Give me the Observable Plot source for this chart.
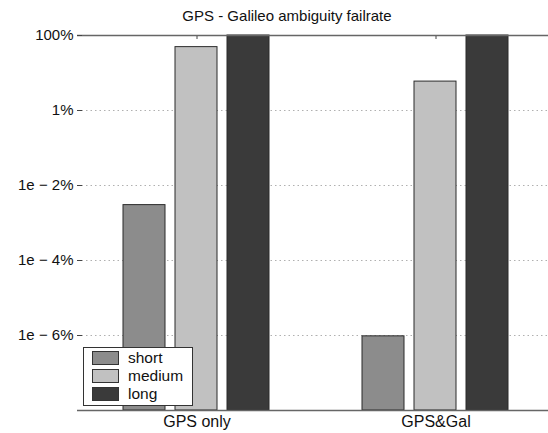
<!DOCTYPE html>
<html><head><meta charset="utf-8">
<script src="https://cdn.jsdelivr.net/npm/d3@7"></script>
<script src="https://cdn.jsdelivr.net/npm/@observablehq/plot@0.6"></script>
<style>
html,body{margin:0;padding:0;background:#fff;overflow:hidden;}
#wrap{position:relative;width:548px;height:433px;overflow:hidden;font-family:"Liberation Sans",Arial,sans-serif;color:#111;}
#title{position:absolute;left:0;top:7px;width:574px;text-align:center;font-size:15px;}
#legend{position:absolute;left:83px;top:347px;width:110px;height:59px;border:1px solid #333;background:#fff;box-sizing:border-box;}
.row{position:absolute;left:8px;height:14px;font-size:15.5px;line-height:14px;}
.sw{position:absolute;left:0;top:0;width:27px;height:14px;border:1px solid #333;box-sizing:border-box;}
.lb{position:absolute;left:36px;top:0px;white-space:nowrap;}
</style></head>
<body>
<div id="wrap">
  <div id="title">GPS - Galileo ambiguity failrate</div>
  <div id="chart"></div>
  <div id="legend"></div>
</div>
<script>
const groups = ["GPS only", "GPS&Gal"];
const series = ["short", "medium", "long"];
const shortVals = [3.0e-3, 9.5e-7];
const mediumVals = [49, 5.9];
const longVals = [100, 100];
const yDomain = [1e-8, 100];
const yTicks = [100, 1, 1e-2, 1e-4, 1e-6];
const yTickLabels = ["100%", "1%", "1e \u2212 2%", "1e \u2212 4%", "1e \u2212 6%"];
const colors = ["#8c8c8c", "#c1c1c1", "#3a3a3a"];

const valuesBySeries = [shortVals, mediumVals, longVals];
const rows = [];
groups.forEach((g, gi) => series.forEach((s, si) => rows.push({group: g, series: s, value: valuesBySeries[si][gi]})));

const chart = Plot.plot({
  width: 555, height: 433,
  marginTop: 35, marginBottom: 23, marginLeft: 77, marginRight: 0,
  style: {fontFamily: '"Liberation Sans", Arial, sans-serif', fontSize: "15px", color: "#111", background: "transparent", maxWidth: "none"},
  facet: {data: rows, x: "group"},
  fx: {domain: groups, padding: 0, label: null, axis: null},
  x: {domain: series, paddingInner: 0.19, paddingOuter: 0.86, axis: null},
  y: {type: "log", domain: yDomain, axis: null},
  color: {domain: series, range: colors},
  marks: [
    Plot.ruleY(yTicks.slice(1), {stroke: "#b0b0b0", strokeDasharray: "1.5,3"}),
    Plot.barY(rows, {x: "series", y1: yDomain[0], y2: "value", fill: "series", stroke: "#2b2b2b", strokeWidth: 1}),
    Plot.ruleY(yDomain, {stroke: "#666", strokeWidth: 1.3}),
    Plot.axisY({ticks: yTicks, tickFormat: d => yTickLabels[yTicks.indexOf(d)], tickSize: -5, tickPadding: 9, line: true, stroke: "#444", label: null, fontSize: 15}),
    Plot.axisFx({anchor: "bottom", tickSize: 0, tickPadding: 5, label: null, fontSize: 16}),
    Plot.axisFx({anchor: "top", tickSize: -3, tickFormat: () => "", label: null, stroke: "#444"})
  ]
});
document.getElementById("chart").appendChild(chart);

const legend = document.getElementById("legend");
series.forEach((s, i) => {
  const r = document.createElement("div");
  r.className = "row";
  r.style.top = (3 + i * 18) + "px";
  r.innerHTML = `<div class="sw" style="background:${colors[i]}"></div><div class="lb">${s}</div>`;
  legend.appendChild(r);
});
</script>
</body></html>
